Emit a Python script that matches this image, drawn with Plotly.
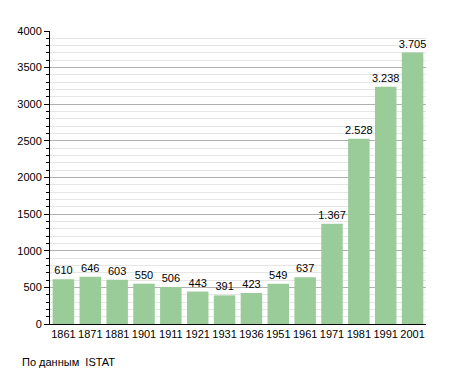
import plotly.graph_objects as go

years = ["1861", "1871", "1881", "1901", "1911", "1921", "1931", "1936",
         "1951", "1961", "1971", "1981", "1991", "2001"]
population = [610, 646, 603, 550, 506, 443, 391, 423, 549, 637, 1367, 2528, 3238, 3705]
labels = [f"{v:,}".replace(",", ".") for v in population]
source_note = "По данным  ISTAT"

# The page body has an 8px default margin, so the figure is sized 8px smaller.
fig = go.Figure()
fig.add_trace(go.Bar(
    x=years, y=population, text=labels, textposition="outside",
    constraintext="none",
    textfont=dict(family="Liberation Sans, Arial", size=11, color="#000"),
    marker=dict(color="#99CC99", line=dict(width=0)),
    cliponaxis=False, hoverinfo="skip",
))

fig.update_layout(
    width=447, height=365,
    margin=dict(l=42, r=29, t=23, b=49, autoexpand=False),
    paper_bgcolor="white", plot_bgcolor="white",
    bargap=0.2, showlegend=False,
    font=dict(family="Liberation Sans, Arial", size=11, color="#000"),
    xaxis=dict(
        type="category", showgrid=False, showline=True, linecolor="#000",
        linewidth=1, ticks="", tickfont=dict(size=11), automargin=False,
    ),
    yaxis=dict(
        range=[0, 4000], dtick=500, showline=True, linecolor="#000", linewidth=1,
        ticks="outside", ticklen=5, tickcolor="#000", tickfont=dict(size=11),
        showgrid=True, gridcolor="#b0b0b0", gridwidth=1, zeroline=False,
        automargin=False,
        minor=dict(dtick=100, showgrid=True, gridcolor="#e6e6e6", gridwidth=1,
                   ticks="outside", ticklen=3, tickcolor="#000"),
    ),
    annotations=[dict(
        text=source_note, xref="paper", yref="paper", x=(12 - 42) / 376, y=-38 / 293,
        xanchor="left", yanchor="middle", showarrow=False,
        font=dict(size=11, color="#000"),
    )],
)

fig.write_html("out.html")
